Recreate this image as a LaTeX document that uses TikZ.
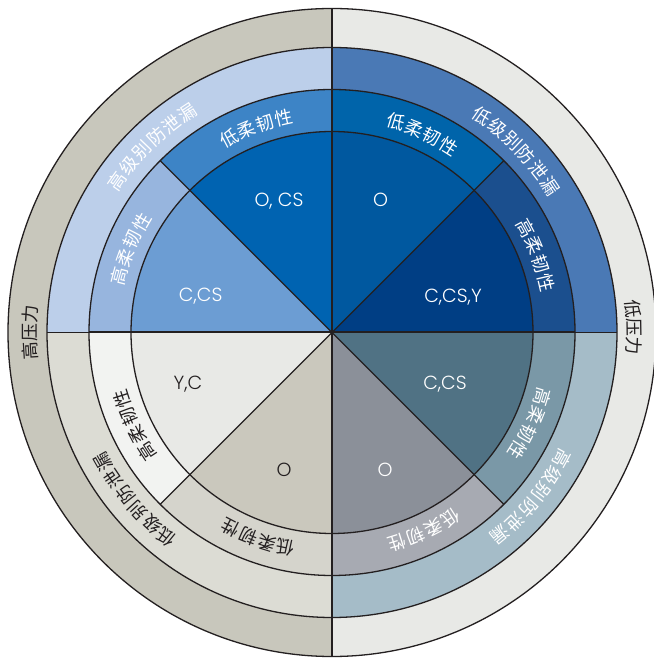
\documentclass[tikz,border=0pt]{standalone}
\usepackage{fontspec}
\newfontfamily\cjkfont{Noto Sans CJK SC}
\newfontfamily\latfont{Poppins}[UprightFont=* Light]
\definecolor{outL}{RGB}{200,199,188}
\definecolor{outR}{RGB}{232,233,230}
\definecolor{rtUL}{RGB}{188,207,234}
\definecolor{rtUR}{RGB}{74,121,181}
\definecolor{rtLR}{RGB}{165,188,200}
\definecolor{rtLL}{RGB}{220,220,212}
\definecolor{rthA}{RGB}{27,79,142}
\definecolor{rthB}{RGB}{0,100,170}
\definecolor{rthC}{RGB}{61,132,198}
\definecolor{rthD}{RGB}{151,181,222}
\definecolor{rthE}{RGB}{242,243,241}
\definecolor{rthF}{RGB}{213,212,204}
\definecolor{rthG}{RGB}{167,170,178}
\definecolor{rthH}{RGB}{122,152,167}
\definecolor{inA}{RGB}{0,62,132}
\definecolor{inB}{RGB}{0,88,159}
\definecolor{inC}{RGB}{0,99,177}
\definecolor{inD}{RGB}{108,157,211}
\definecolor{inE}{RGB}{232,233,230}
\definecolor{inF}{RGB}{202,200,189}
\definecolor{inG}{RGB}{139,144,153}
\definecolor{inH}{RGB}{80,114,132}
\definecolor{ink}{RGB}{35,31,32}
\tikzset{
  cjklab/.style={font=\cjkfont\fontsize{18}{18}\selectfont, inner sep=0pt},
  latlab/.style={font=\latfont\fontsize{19}{19}\selectfont, inner sep=0pt, anchor=base},
  sepline/.style={draw=ink, line width=1.3pt},
  thickline/.style={draw=ink, line width=2pt},
}
\newcommand\wedgefill[4]{\fill[#4] (0,0) -- (#1:#3) arc[start angle=#1, end angle=#2, radius=#3] -- cycle;}
\newcommand\ringlabel[6]{%
  \foreach \ch [count=\i from 0] in {#6} {
    \pgfmathsetmacro\ang{#2+\i*(#3)}
    \node[cjklab, text=#5, rotate=\ang-90] (#1-\i) at (\ang:#4) {\ch};
  }}
\begin{document}
\begin{tikzpicture}[x=1pt,y=1pt]
\useasboundingbox (0,0) rectangle (653,658);
\begin{scope}[shift={(332,325.5)}]
% outer ring
\wedgefill{90}{270}{324}{outL}
\wedgefill{-90}{90}{324}{outR}
% ring 2
\wedgefill{90}{180}{285}{rtUL}
\wedgefill{0}{90}{285}{rtUR}
\wedgefill{-90}{0}{285}{rtLR}
\wedgefill{180}{270}{285}{rtLL}
% ring 3
\wedgefill{0}{45}{243}{rthA}
\wedgefill{45}{90}{243}{rthB}
\wedgefill{90}{135}{243}{rthC}
\wedgefill{135}{180}{243}{rthD}
\wedgefill{180}{225}{243}{rthE}
\wedgefill{225}{270}{243}{rthF}
\wedgefill{270}{315}{243}{rthG}
\wedgefill{315}{360}{243}{rthH}
% inner pie
\wedgefill{0}{45}{201}{inA}
\wedgefill{45}{90}{201}{inB}
\wedgefill{90}{135}{201}{inC}
\wedgefill{135}{180}{201}{inD}
\wedgefill{180}{225}{201}{inE}
\wedgefill{225}{270}{201}{inF}
\wedgefill{270}{315}{201}{inG}
\wedgefill{315}{360}{201}{inH}
% named points
\coordinate (c) at (0,0);
\coordinate (top) at (90:324);
\coordinate (bot) at (270:324);
\coordinate (lft) at (180:285);
\coordinate (rgt) at (0:285);
\coordinate (lfti) at (180:243);
\coordinate (rgti) at (0:243);
\coordinate (dA) at (45:243);
\coordinate (dB) at (135:243);
\coordinate (dC) at (225:243);
\coordinate (dD) at (315:243);
% circles
\draw[sepline] (c) circle[radius=324];
\draw[sepline] (c) circle[radius=285];
\draw[sepline] (c) circle[radius=243];
\draw[sepline] (c) circle[radius=201];
% dividing lines
\draw[sepline] (top) -- (bot);
\draw[sepline] (lft) -- (rgt);
\draw[thickline] (lfti) -- (rgti);
\draw[sepline] (dA) -- (dC);
\draw[sepline] (dB) -- (dD);
% outer labels
\ringlabel{hp}{183.5}{-3.5}{302}{ink}{高,压,力}
\ringlabel{lp}{4.4}{-3.5}{302}{ink}{低,压,力}
% ring 2 labels
\ringlabel{ul2}{144.85}{-4.3}{263}{white}{高,级,别,防,泄,漏}
\ringlabel{ur2}{55.35}{-4.3}{263}{white}{低,级,别,防,泄,漏}
\ringlabel{lr2}{-28.75}{-4.3}{263}{white}{高,级,别,防,泄,漏}
\ringlabel{ll2}{231.05}{-4.3}{263}{ink}{低,级,别,防,泄,漏}
% ring 3 labels
\ringlabel{ula}{117.9}{-5.1}{220}{white}{低,柔,韧,性}
\ringlabel{ulb}{165.15}{-5.1}{220}{white}{高,柔,韧,性}
\ringlabel{ura}{73.15}{-5.1}{220}{white}{低,柔,韧,性}
\ringlabel{urb}{28.35}{-5.1}{220}{white}{高,柔,韧,性}
\ringlabel{lra}{-17.05}{-5.1}{220}{white}{高,柔,韧,性}
\ringlabel{lrb}{-57.45}{-5.1}{220}{white}{低,柔,韧,性}
\ringlabel{lla}{257.85}{-5.1}{220}{ink}{低,柔,韧,性}
\ringlabel{llb}{212.85}{-5.1}{220}{ink}{高,柔,韧,性}
% inner labels
\node[latlab, text=white] (iC) at (-53,126) {O, CS};
\node[latlab, text=white] (iD) at (-131.3,31) {C,CS};
\node[latlab, text=white] (iB) at (48.7,126) {O};
\node[latlab, text=white] (iA) at (121,30) {C,CS,Y};
\node[latlab, text=ink] (iE) at (-144,-57) {Y,C};
\node[latlab, text=ink] (iF) at (-48,-144) {O};
\node[latlab, text=white] (iH) at (113,-56.7) {C,CS};
\node[latlab, text=white] (iG) at (53,-144) {O};
\end{scope}
\end{tikzpicture}
\end{document}
